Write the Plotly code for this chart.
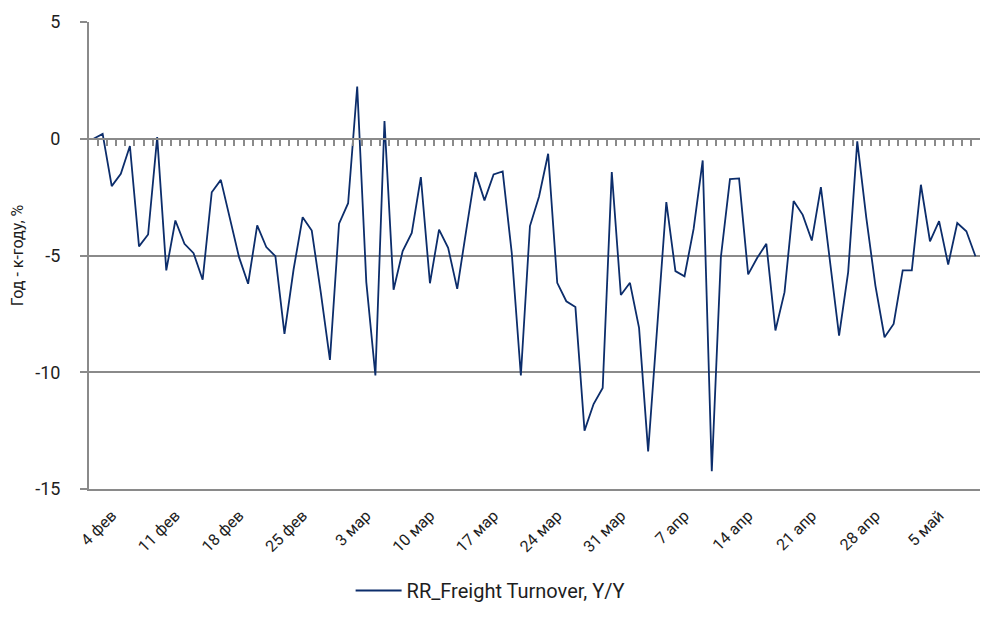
import pandas as pd
import plotly.graph_objects as go

# --- DATOS ---
start_date = "2020-02-02"
series_name = "RR_Freight Turnover, Y/Y"
yoy = [
    0.0, 0.21, -2.03, -1.5, -0.31, -4.61, -4.1, 0.07, -5.64, -3.5,
    -4.5, -4.9, -6.04, -2.29, -1.76, -3.43, -5.07, -6.21, -3.71, -4.64,
    -5.03, -8.36, -5.6, -3.36, -3.93, -6.6, -9.47, -3.64, -2.76, 2.24,
    -6.14, -10.14, 0.76, -6.47, -4.81, -4.03, -1.64, -6.19, -3.89, -4.67,
    -6.43, -3.9, -1.43, -2.64, -1.53, -1.4, -4.9, -10.14, -3.74, -2.47,
    -0.64, -6.17, -6.96, -7.21, -12.5, -11.36, -10.67, -1.43, -6.69, -6.17,
    -8.1, -13.39, -8.0, -2.71, -5.67, -5.89, -3.86, -0.93, -14.24, -5.07,
    -1.73, -1.7, -5.81, -5.1, -4.5, -8.21, -6.57, -2.67, -3.26, -4.36,
    -2.07, -5.2, -8.43, -5.71, -0.11, -3.4, -6.3, -8.5, -7.93, -5.64,
    -5.64, -1.97, -4.39, -3.53, -5.39, -3.61, -3.96, -5.03,
]
month_ru = ["янв", "фев", "мар", "апр", "май", "июн"]
y_ticks = [5, 0, -5, -10, -15]
y_tick_text = ["5", "0", "-5", "-10", "-15"]

dates = pd.date_range(start_date, periods=len(yoy), freq="D")
idx = list(range(len(yoy)))
label_idx = [i for i in idx if (i - 2) % 7 == 0]
label_text = [f"{dates[i].day} {month_ru[dates[i].month - 1]}" for i in label_idx]
boundaries = [i + 0.5 for i in idx[:-1]]

GRID = "#8a8a8a"
TXT = "#1e1e1e"

fig = go.Figure()
fig.add_trace(go.Scatter(x=idx, y=yoy, mode="lines", name=series_name,
                         line=dict(color="#0c2d6b", width=1.8)))
# ось на нуле с рисками между категориями
fig.add_trace(go.Scatter(x=[idx[0]], y=[None], xaxis="x2", showlegend=False,
                         hoverinfo="skip"))

# страница имеет отступ body 8px, поэтому фигура меньше и поля сдвинуты
fig.update_layout(
    width=972, height=602,
    margin=dict(l=81, r=0, t=14, b=121, autoexpand=False),
    plot_bgcolor="white", paper_bgcolor="white",
    font=dict(family="Roboto, DejaVu Sans, sans-serif", color=TXT, size=16),
    xaxis=dict(range=[-0.5, len(yoy) - 0.5], tickvals=label_idx, ticktext=label_text,
               tickangle=-45, ticks="outside", ticklen=9, tickcolor="rgba(0,0,0,0)",
               showgrid=False, zeroline=False, automargin=False,
               showline=True, linecolor=GRID, linewidth=2,
               tickfont=dict(size=16)),
    xaxis2=dict(range=[-0.5, len(yoy) - 0.5], overlaying="x", anchor="free",
                position=0.75, side="bottom", tickvals=boundaries, ticks="outside",
                ticklen=6, tickwidth=2, tickcolor=GRID, showticklabels=False,
                showgrid=False, zeroline=False, showline=True,
                linecolor=GRID, linewidth=2),
    yaxis=dict(range=[-15, 5], tickvals=y_ticks, ticktext=y_tick_text,
               showgrid=True, gridcolor=GRID, gridwidth=2, zeroline=False,
               showline=True, linecolor=GRID, linewidth=2, automargin=False,
               ticks="outside", ticklen=7, tickwidth=2, tickcolor=GRID,
               ticklabelstandoff=16, tickfont=dict(size=18),
               title=dict(text="Год - к-году, %", font=dict(size=16), standoff=10)),
    legend=dict(orientation="h", xref="container", yref="container",
                x=0.496, y=0.0, xanchor="center", yanchor="bottom",
                itemwidth=46, font=dict(size=20)),
    showlegend=True,
)

fig.write_html("out.html")
